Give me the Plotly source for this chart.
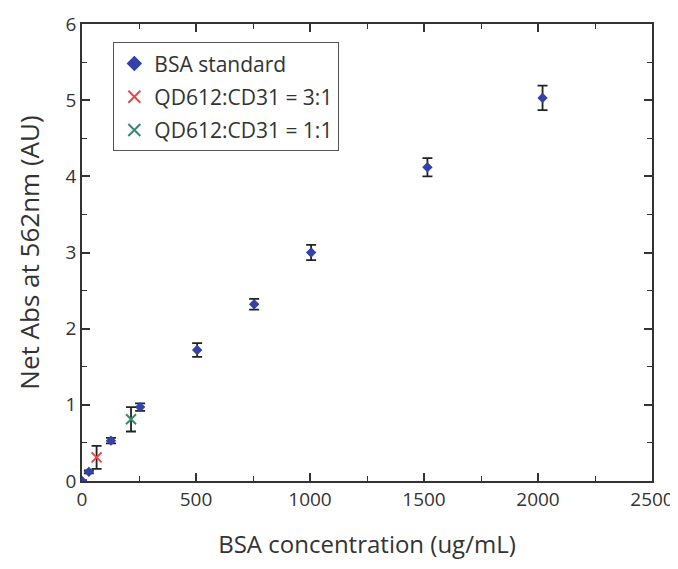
import plotly.graph_objects as go

# BSA standard
bsa_x = [0, 30, 127, 255, 505, 755, 1005, 1515, 2020]
bsa_y = [0.0, 0.12, 0.53, 0.97, 1.72, 2.32, 3.0, 4.12, 5.03]
bsa_err = [0.01, 0.02, 0.035, 0.05, 0.09, 0.07, 0.1, 0.12, 0.16]

# QD612:CD31 = 3:1
r31_x = [64]
r31_y = [0.31]
r31_err = [0.15]

# QD612:CD31 = 1:1
r11_x = [215]
r11_y = [0.81]
r11_err = [0.16]

font_family = "Open Sans, Lato, Noto Sans, sans-serif"
err_style = dict(type="data", visible=True, color="#222", thickness=1.8, width=5)

fig = go.Figure()
fig.add_trace(go.Scatter(
    x=bsa_x, y=bsa_y, mode="markers", name="BSA standard", legendgroup="a",
    marker=dict(symbol="diamond", size=8, color="#3242a8"),
    error_y=dict(array=bsa_err, **err_style),
))
fig.add_trace(go.Scatter(
    x=r31_x, y=r31_y, mode="markers", name="QD612:CD31 = 3:1", legendgroup="b",
    marker=dict(symbol="x-thin", size=10, color="#e8474a", line=dict(width=2, color="#e8474a")),
    error_y=dict(array=r31_err, **err_style),
))
fig.add_trace(go.Scatter(
    x=r11_x, y=r11_y, mode="markers", name="QD612:CD31 = 1:1", legendgroup="c",
    marker=dict(symbol="x-thin", size=10, color="#3a8a70", line=dict(width=2, color="#3a8a70")),
    error_y=dict(array=r11_err, **err_style),
))

axis_common = dict(
    showline=True, linecolor="#333", linewidth=1.5, mirror="ticks",
    ticks="inside", ticklen=8, tickwidth=1.5, tickcolor="#333",
    showgrid=False, zeroline=False, automargin=False,
    tickfont=dict(size=19, color="#333", family=font_family),
)

fig.update_xaxes(
    range=[0, 2500], tickvals=[0, 500, 1000, 1500, 2000, 2500],
    minor=dict(ticks="inside", ticklen=5, tickwidth=1.2, tickcolor="#333", dtick=250, tick0=0, showgrid=False),
    title=dict(text="BSA concentration (ug/mL)", font=dict(size=24, color="#333", family=font_family), standoff=26),
    **axis_common,
)
fig.update_yaxes(
    range=[0, 6], tickvals=[0, 1, 2, 3, 4, 5, 6],
    minor=dict(ticks="inside", ticklen=5, tickwidth=1.2, tickcolor="#333", dtick=0.5, tick0=0, showgrid=False),
    title=dict(text="Net Abs at 562nm (AU)", font=dict(size=26, color="#333", family=font_family), standoff=18),
    **axis_common,
)

# page body adds an 8px offset, so the figure is sized to sit inside the window
fig.update_layout(
    width=670, height=561,
    margin=dict(l=74, r=26, t=16, b=88),
    paper_bgcolor="white", plot_bgcolor="white",
    showlegend=True,
    legend=dict(
        x=0.055, y=0.96, xanchor="left", yanchor="top",
        bgcolor="white", bordercolor="#555", borderwidth=1,
        font=dict(size=21, color="#333", family=font_family),
        itemsizing="constant", tracegroupgap=3,
    ),
    font=dict(family=font_family),
)

fig.write_html("out.html")
